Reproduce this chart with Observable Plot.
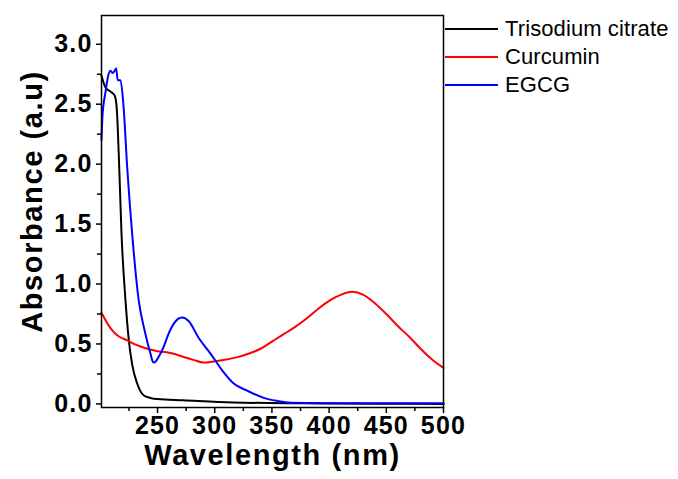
<!DOCTYPE html>
<html>
<head>
<meta charset="utf-8">
<script src="https://cdn.jsdelivr.net/npm/d3@7"></script>
<script src="https://cdn.jsdelivr.net/npm/@observablehq/plot@0.6"></script>
<style>
  body { margin: 0; background: #fff; font-family: "Liberation Sans", Arial, sans-serif; }
  #wrap { position: relative; width: 678px; height: 479px; }
  #legend { position: absolute; left: 445px; top: 15px; }
  .row { display: flex; align-items: center; height: 28px; }
  .sw { width: 53px; height: 0; border-top: 2px solid; margin-right: 7px; }
  .lab { font-size: 22px; color: #000; white-space: nowrap; letter-spacing: 0.1px; }
</style>
</head>
<body>
<div id="wrap"><div id="chart"></div><div id="legend"></div></div>
<script>
const seriesNames = ["Trisodium citrate", "Curcumin", "EGCG"];
const seriesColors = ["#000000", "#ff0000", "#0000ff"];

const citrateWl = [201, 204.5, 209.7, 212.6, 214.1, 215, 216.5, 218.5, 222, 224.9, 227.8, 232.2, 238, 243.8, 250, 272.7, 316, 375, 440, 500];
const citrateAbs = [2.74, 2.64, 2.60, 2.57, 2.49, 2.35, 1.97, 1.42, 0.86, 0.53, 0.33, 0.17, 0.07, 0.05, 0.04, 0.03, 0.012, 0.005, 0.002, 0.0];

const curcuminWl = [201, 205, 209, 215, 223.5, 232, 241, 250, 258, 267, 275, 282, 290, 300, 310, 320, 330, 340, 350, 360, 370, 380, 390, 400, 410, 420, 430, 440, 450, 460, 470, 480, 490, 500];
const curcuminAbs = [0.76, 0.69, 0.63, 0.57, 0.53, 0.49, 0.46, 0.44, 0.43, 0.41, 0.385, 0.365, 0.345, 0.355, 0.37, 0.39, 0.42, 0.46, 0.52, 0.58, 0.64, 0.71, 0.79, 0.86, 0.91, 0.935, 0.91, 0.84, 0.75, 0.65, 0.56, 0.46, 0.37, 0.30];

const egcgWl = [201, 201.9, 204.5, 206.9, 208.9, 210.6, 212.6, 213.8, 215.2, 217.6, 220.2, 223.5, 227.8, 233.6, 238.5, 241.5, 243.8, 245.5, 246.7, 248.5, 250.5, 252.6, 255.5, 259, 264.2, 271.5, 277.3, 286, 296.3, 306.5, 316.6, 328.4, 342.9, 354.6, 366.2, 418.6, 500];
const egcgAbs = [2.2, 2.41, 2.60, 2.74, 2.78, 2.76, 2.78, 2.80, 2.70, 2.70, 2.49, 1.97, 1.42, 0.86, 0.62, 0.50, 0.42, 0.36, 0.345, 0.355, 0.385, 0.42, 0.48, 0.57, 0.67, 0.72, 0.69, 0.55, 0.42, 0.28, 0.17, 0.11, 0.05, 0.025, 0.01, 0.005, 0.005];

const xMajor = [250, 300, 350, 400, 450, 500];
const xMinor = [225, 275, 325, 375, 425, 475];
const yMajor = [0, 0.5, 1.0, 1.5, 2.0, 2.5, 3.0];
const yMinor = [0.25, 0.75, 1.25, 1.75, 2.25, 2.75];
const xTitle = "Wavelength (nm)";
const yTitle = "Absorbance (a.u)";

const wls = [citrateWl, curcuminWl, egcgWl];
const abss = [citrateAbs, curcuminAbs, egcgAbs];
const rows = [];
seriesNames.forEach((name, i) => {
  wls[i].forEach((w, j) => rows.push({series: name, wl: w, abs: abss[i][j]}));
});

const font = "'Liberation Sans', Arial, sans-serif";
const chart = Plot.plot({
  width: 678, height: 479,
  marginLeft: 101, marginRight: 235, marginTop: 15, marginBottom: 72,
  style: {fontFamily: font, background: "#fff", color: "#000"},
  x: {domain: [201, 500]},
  y: {domain: [-0.03, 3.24]},
  color: {domain: seriesNames, range: seriesColors},
  marks: [
    Plot.line(rows, {x: "wl", y: "abs", z: "series", stroke: "series", strokeWidth: 2, curve: "monotone-x"}),
    Plot.frame({stroke: "#000", strokeWidth: 1.5}),
    Plot.axisX({ticks: xMajor, tickSize: 6, tickPadding: 3, tickFormat: d => String(d), fontSize: 25, fontWeight: "bold", strokeWidth: 1.5, label: null}),
    Plot.axisX({ticks: xMinor, tickSize: 4, tickFormat: () => "", strokeWidth: 1.5, label: null}),
    Plot.axisY({ticks: yMajor, tickSize: 5, tickPadding: 4, tickFormat: d3.format(".1f"), fontSize: 25, fontWeight: "bold", strokeWidth: 1.5, label: null}),
    Plot.axisY({ticks: yMinor, tickSize: 4, tickFormat: () => "", strokeWidth: 1.5, label: null}),
    Plot.text([xTitle], {frameAnchor: "bottom", dy: 57, text: d => d, fontSize: 29, fontWeight: "bold", textAnchor: "middle"}),
    Plot.text([yTitle], {frameAnchor: "left", dx: -69, dy: -10, rotate: -90, text: d => d, fontSize: 29, fontWeight: "bold", textAnchor: "middle"})
  ]
});
document.getElementById("chart").appendChild(chart);
chart.querySelectorAll("text").forEach(t => {
  const s = t.textContent;
  if (s === yTitle || s === xTitle) t.setAttribute("letter-spacing", "1.6");
  else if (/^\d/.test(s)) t.setAttribute("letter-spacing", "1.2");
});

const legend = document.getElementById("legend");
seriesNames.forEach((name, i) => {
  const row = document.createElement("div");
  row.className = "row";
  const sw = document.createElement("div");
  sw.className = "sw";
  sw.style.borderTopColor = seriesColors[i];
  const lab = document.createElement("div");
  lab.className = "lab";
  lab.textContent = name;
  row.appendChild(sw); row.appendChild(lab);
  legend.appendChild(row);
});
</script>
</body>
</html>
